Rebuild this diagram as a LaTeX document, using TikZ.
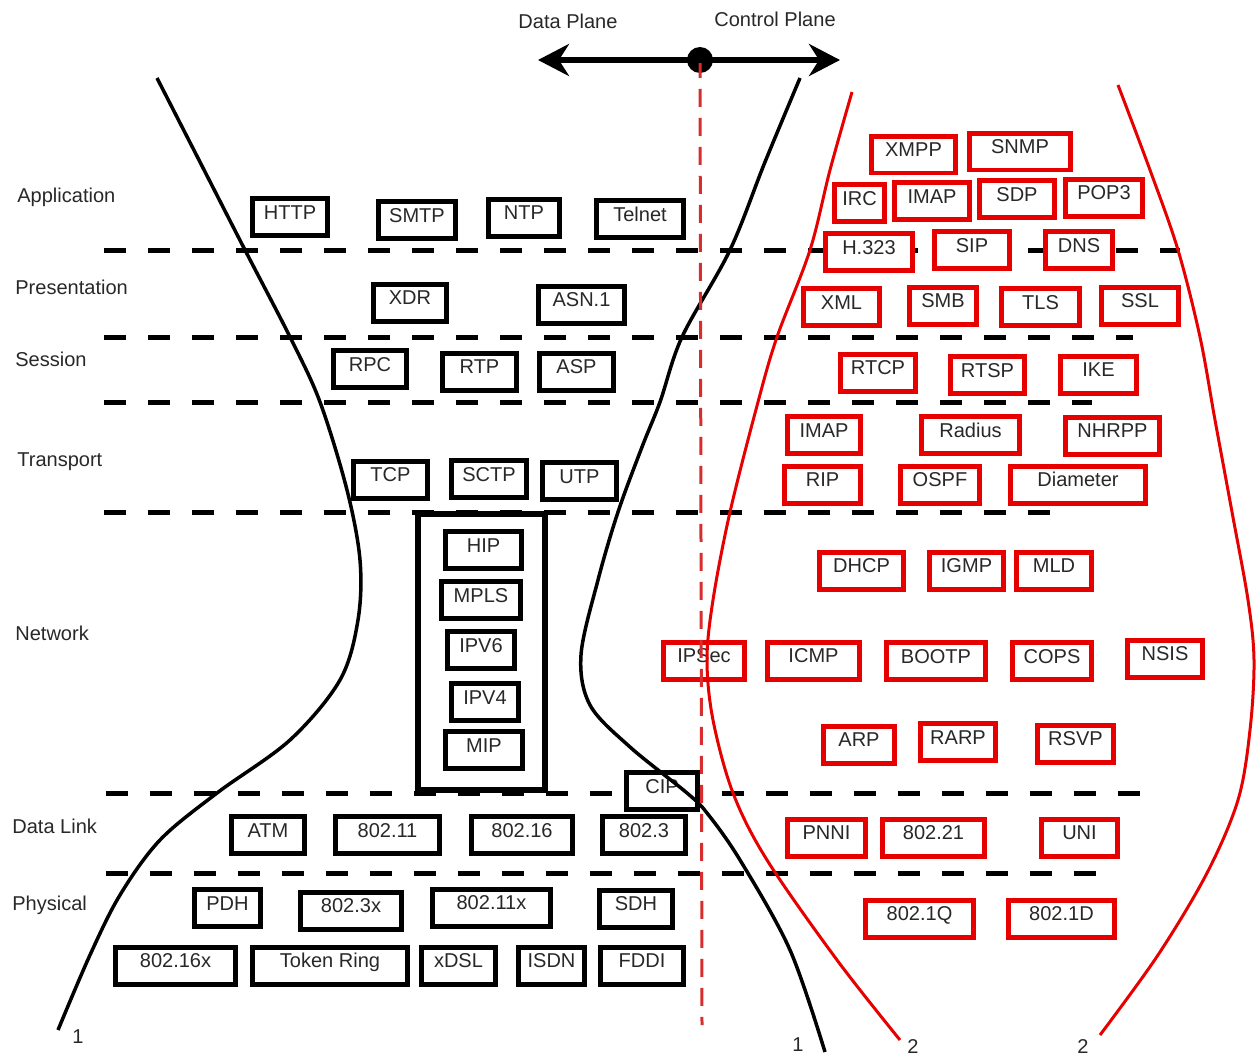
\documentclass[tikz,border=0pt]{standalone}
\usepackage{fontspec}
\setmainfont{Liberation Sans}
\usetikzlibrary{arrows.meta}
\definecolor{pred}{RGB}{230,0,0}
\definecolor{vred}{RGB}{215,45,45}
\definecolor{txt}{RGB}{40,40,40}
\newcommand\fs{\fontsize{11.4pt}{13pt}\selectfont}
\newcommand\bx[7]{%
  \pgfmathsetmacro\bw{(#5-#3-5)*0.02}%
  \pgfmathsetmacro\bxc{(#3+#5)/2}%
  \pgfmathsetmacro\byc{(#4+#6)/2}%
  \node[#1, minimum width=\bw cm] (#2) at (\bxc,\byc) {#7};}
\tikzset{
  box/.style={draw, line width=0.1cm, fill=white, inner sep=0pt, text height=0.41cm, text depth=0.33cm, font=\fs, text=txt},
  bbox/.style={box, draw=black},
  rbox/.style={box, draw=pred},
  lay/.style={anchor=base west, font=\fs, text=txt, inner sep=0pt},
  num/.style={anchor=base, font=\fs, text=txt, inner sep=0pt},
  hdash/.style={line width=0.1cm, dash pattern=on 0.44cm off 0.44cm},
  bcurve/.style={line width=0.07cm},
  rcurve/.style={line width=0.06cm, draw=pred},
}
\begin{document}
\begin{tikzpicture}[x={(0.02cm,0)}, y={(0,-0.02cm)}]
\useasboundingbox (0,0) rectangle (1258,1055);
% layer separators
\foreach \yy/\xa/\xb/\nm in {250/104/1180/s1, 337/104/1133/s2, 402/104/1092/s3, 512/104/1050/s4, 793/106/1140/s5, 873/106/1097/s6}{
  \coordinate (\nm a) at (\xa,\yy);
  \coordinate (\nm b) at (\xb,\yy);
  \draw[hdash] (\nm a) -- (\nm b);
}
% layer labels
\node[lay] (lApp) at (17,202) {Application};
\node[lay] (lPre) at (15,294) {Presentation};
\node[lay] (lSes) at (15,366) {Session};
\node[lay] (lTra) at (17,466) {Transport};
\node[lay] (lNet) at (15,640) {Network};
\node[lay] (lDat) at (12,833) {Data Link};
\node[lay] (lPhy) at (12,910) {Physical};
% network container
\node[draw, line width=0.12cm, fill=white, inner sep=0pt, minimum width={(548-415-6)*0.02cm}, minimum height={(793-511-6)*0.02cm}] (netbox) at (481.5,652) {};
% black boxes
\bx{bbox}{http}{250}{196}{330}{238}{HTTP}
\bx{bbox}{smtp}{376}{200}{458}{240}{SMTP}
\bx{bbox}{ntp}{486}{197}{562}{238}{NTP}
\bx{bbox}{telnet}{594}{198}{686}{240}{Telnet}
\bx{bbox}{xdr}{371}{282}{449}{323}{XDR}
\bx{bbox}{asn}{536}{284}{627}{325}{ASN.1}
\bx{bbox}{rpc}{331}{348}{409}{390}{RPC}
\bx{bbox}{rtp}{440}{350}{519}{393}{RTP}
\bx{bbox}{asp}{537}{350}{616}{393}{ASP}
\bx{bbox}{tcp}{351}{459}{430}{500}{TCP}
\bx{bbox}{sctp}{449}{458}{529}{500}{SCTP}
\bx{bbox}{utp}{540}{460}{619}{502}{UTP}
\bx{bbox}{hip}{443}{528}{524}{572}{HIP}
\bx{bbox}{mpls}{439}{578}{523}{622}{MPLS}
\bx{bbox}{ipvsix}{445}{628}{517}{672}{IPV6}
\bx{bbox}{ipvfour}{449}{680}{521}{724}{IPV4}
\bx{bbox}{mip}{443}{728}{525}{772}{MIP}
\bx{bbox}{cip}{624}{770}{700}{812}{CIP}
\bx{bbox}{atm}{229}{814}{307}{856}{ATM}
\bx{bbox}{ea}{333}{814}{442}{856}{802.11}
\bx{bbox}{eb}{469}{814}{575}{856}{802.16}
\bx{bbox}{ec}{600}{814}{688}{856}{802.3}
\bx{bbox}{pdh}{192}{886}{263}{930}{PDH}
\bx{bbox}{ed}{298}{889}{404}{932}{802.3x}
\bx{bbox}{ee}{430}{886}{553}{929}{802.11x}
\bx{bbox}{sdh}{597}{887}{675}{930}{SDH}
\bx{bbox}{ef}{113}{943}{238}{988}{802.16x}
\bx{bbox}{token}{250}{943}{410}{988}{Token Ring}
\bx{bbox}{xdsl}{419}{943}{498}{988}{xDSL}
\bx{bbox}{isdn}{516}{943}{587}{988}{ISDN}
\bx{bbox}{fddi}{598}{943}{686}{988}{FDDI}
% red boxes
\bx{rbox}{xmpp}{869}{134}{958}{175}{XMPP}
\bx{rbox}{snmp}{967}{130}{1073}{173}{SNMP}
\bx{rbox}{irc}{832}{182}{887}{224}{IRC}
\bx{rbox}{imapA}{892}{180}{972}{222}{IMAP}
\bx{rbox}{sdp}{977}{177}{1057}{221}{SDP}
\bx{rbox}{popthree}{1063}{176}{1145}{219}{POP3}
\bx{rbox}{hthree}{823}{230}{915}{274}{H.323}
\bx{rbox}{sip}{932}{228}{1012}{272}{SIP}
\bx{rbox}{dns}{1043}{228}{1115}{272}{DNS}
\bx{rbox}{xml}{801}{285}{882}{329}{XML}
\bx{rbox}{smb}{907}{283}{979}{328}{SMB}
\bx{rbox}{tls}{999}{285}{1082}{329}{TLS}
\bx{rbox}{ssl}{1099}{284}{1181}{327}{SSL}
\bx{rbox}{rtcp}{838}{352}{918}{393}{RTCP}
\bx{rbox}{rtsp}{948}{353}{1027}{397}{RTSP}
\bx{rbox}{ike}{1058}{353}{1139}{396}{IKE}
\bx{rbox}{imapB}{785}{413}{863}{457}{IMAP}
\bx{rbox}{radius}{919}{413}{1022}{457}{Radius}
\bx{rbox}{nhrpp}{1063}{414}{1162}{457}{NHRPP}
\bx{rbox}{rip}{782}{463}{863}{506}{RIP}
\bx{rbox}{ospf}{898}{463}{982}{506}{OSPF}
\bx{rbox}{diameter}{1008}{463}{1148}{506}{Diameter}
\bx{rbox}{dhcp}{817}{549}{906}{592}{DHCP}
\bx{rbox}{igmp}{927}{549}{1006}{592}{IGMP}
\bx{rbox}{mld}{1014}{549}{1094}{592}{MLD}
\bx{rbox}{ipsec}{661}{638}{747}{683}{IPSec}
\bx{rbox}{icmp}{765}{638}{862}{683}{ICMP}
\bx{rbox}{bootp}{884}{639}{988}{683}{BOOTP}
\bx{rbox}{cops}{1010}{639}{1094}{683}{COPS}
\bx{rbox}{nsis}{1125}{637}{1205}{680}{NSIS}
\bx{rbox}{arp}{821}{722}{897}{767}{ARP}
\bx{rbox}{rarp}{918}{720}{998}{764}{RARP}
\bx{rbox}{rsvp}{1035}{722}{1116}{765}{RSVP}
\bx{rbox}{pnni}{785}{815}{868}{860}{PNNI}
\bx{rbox}{eg}{880}{815}{987}{860}{802.21}
\bx{rbox}{uni}{1039}{815}{1120}{860}{UNI}
\bx{rbox}{eh}{863}{896}{976}{941}{802.1Q}
\bx{rbox}{ei}{1006}{896}{1117}{941}{802.1D}
% curves
\draw[bcurve] plot[smooth, tension=0.55] coordinates {(157,78) (200,162) (245,250) (290,337) (320,402) (347,490) (360,560) (358,620) (340,680) (290,740) (217,793) (160,840) (120,895) (90,955) (58,1030)};
\draw[bcurve] plot[smooth, tension=0.55] coordinates {(800,78) (765,162) (730,250) (682,337) (660,402) (642,447) (618,512) (598,580) (581,655) (590,705) (630,747) (687,793) (707,813) (740,860) (790,950) (825,1052)};
\draw[rcurve] plot[smooth, tension=0.55] coordinates {(852,92) (830,170) (810,250) (777,337) (758,402) (730,512) (713,600) (707,660) (713,720) (733,793) (767,860) (837,960) (900,1040)};
\draw[rcurve] plot[smooth, tension=0.55] coordinates {(1118,85) (1150,170) (1178,250) (1200,337) (1215,420) (1232,512) (1248,600) (1254,660) (1250,730) (1238,800) (1207,873) (1158,955) (1100,1035)};
% end labels
\node[num] (n1a) at (78,1043) {1};
\node[num] (n1b) at (798,1051) {1};
\node[num] (n2a) at (913,1053) {2};
\node[num] (n2b) at (1083,1053) {2};
% plane axis
\node[circle, fill=black, inner sep=0pt, minimum size=0.52cm] (dot) at (700,60) {};
\coordinate (dpl) at (538,60);
\coordinate (cpl) at (840,60);
\coordinate (vend) at (702,1025);
\draw[vred, line width=0.06cm, dash pattern=on 0.36cm off 0.22cm] (dot.center) -- (vend);
\draw[line width=0.12cm, {Stealth[length=0.62cm,width=0.64cm]}-{Stealth[length=0.62cm,width=0.64cm]}] (dpl) -- (cpl);
\node[anchor=base, font=\fs, text=txt, inner sep=0pt] (dptext) at (568,28) {Data Plane};
\node[anchor=base, font=\fs, text=txt, inner sep=0pt] (cptext) at (775,26) {Control Plane};
\end{tikzpicture}
\end{document}
